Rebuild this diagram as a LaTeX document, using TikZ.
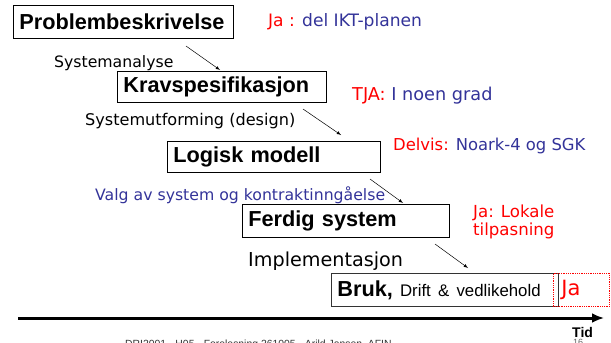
\documentclass[tikz,border=0pt]{standalone}
\usepackage{fontspec}
\setmainfont{Liberation Sans}
\newfontfamily\comicfont{DejaVu Sans}
\usetikzlibrary{arrows.meta}
\definecolor{notered}{HTML}{FF0000}
\definecolor{noteblue}{HTML}{333399}

\begin{document}
\begin{tikzpicture}[x=1pt, y=-1pt,
					phase/.style={draw, line width=0.8pt, anchor=north west, inner xsep=6pt, inner ysep=0pt, align=left, font=\bfseries\fontsize{21.7}{26}\selectfont},
					note/.style={anchor=base west, inner sep=0pt, font=\comicfont\fontsize{#1}{18}\selectfont},
					note/.default=16,
					flow/.style={-latex, line width=0.5pt},]
					\useasboundingbox (0,0) rectangle (611,343);
					\clip (0,0) rectangle (611,343);

					\node[phase, text width=208pt, minimum height=33pt] (P) at (13,5) {Problembeskrivelse};
					\node[phase, text width=197pt, minimum height=31pt] (K) at (117,71) {Kravspesifikasjon};
					\node[phase, text width=201pt, minimum height=31pt] (L) at (167,141) {Logisk modell};
					\node[phase, text width=195pt, minimum height=33pt] (F) at (242,204) {Ferdig system};
					\node[phase, text width=215pt, minimum height=33pt, draw=black!80] (B) at (331,273) {Bruk, \mdseries\fontsize{16.8}{20}\selectfont Drift \& vedlikehold};
					\node[phase, text width=40pt, minimum height=33pt, inner xsep=8pt, draw=notered, densely dotted, text=notered, font=\comicfont\fontsize{21}{22}\selectfont] (Ja) at (553,273) {Ja};

					\node[note=17.1] (n1) at (268,26) {\textcolor{notered}{Ja :} \textcolor{noteblue}{del IKT-planen}};
					\node[note=17.7] (n2) at (352,100) {\textcolor{notered}{TJA:} \textcolor{noteblue}{I noen grad}};
					\node[note=16.4] (n3) at (393,150) {\textcolor{notered}{Delvis:} \textcolor{noteblue}{Noark-4 og SGK}};
					\node[note=16.6, text=notered, align=left, font=\comicfont\fontsize{16.6}{18}\selectfont] (n4) at (473,235) {Ja: Lokale\\tilpasning};

					\node[note=15.7] (s1) at (54,67) {Systemanalyse};
					\node[note=16.1] (s2) at (85,125) {Systemutforming (design)};
					\node[note=15.7, text=noteblue] (s3) at (95,200) {Valg av system og kontraktinngåelse};
					\node[note=19.2] (s4) at (248,266) {Implementasjon};

					\foreach \i/\sx/\sy/\ex/\ey in {1/186/46/220/70, 2/303/109/341/135, 3/370/179/403/203, 4/435/244/468/268} {
						\coordinate (a\i) at (\sx,\sy);
						\coordinate (b\i) at (\ex,\ey);
						\draw[flow] (a\i) -- (b\i);
					}

					\coordinate (t0) at (18,318);
					\coordinate (t1) at (604,318);
					\draw[line width=3pt, -{Latex[length=12pt, width=10pt]}] (t0) -- (t1);
					\node[anchor=base west, inner sep=0pt, font=\fontsize{9}{10}\selectfont, text=black!60] (pg) at (573,345) {16};
					\node[anchor=base west, inner sep=0pt, font=\bfseries\fontsize{14}{16}\selectfont] (tid) at (572,337) {Tid};
					\node[anchor=base west, inner sep=0pt, font=\fontsize{10.4}{12}\selectfont, text=black!80] (foot) at (125,347) {DRI2001 - H05 - Forelesning 261005 - Arild Jansen, AFIN};
				\end{tikzpicture}
\end{document}
